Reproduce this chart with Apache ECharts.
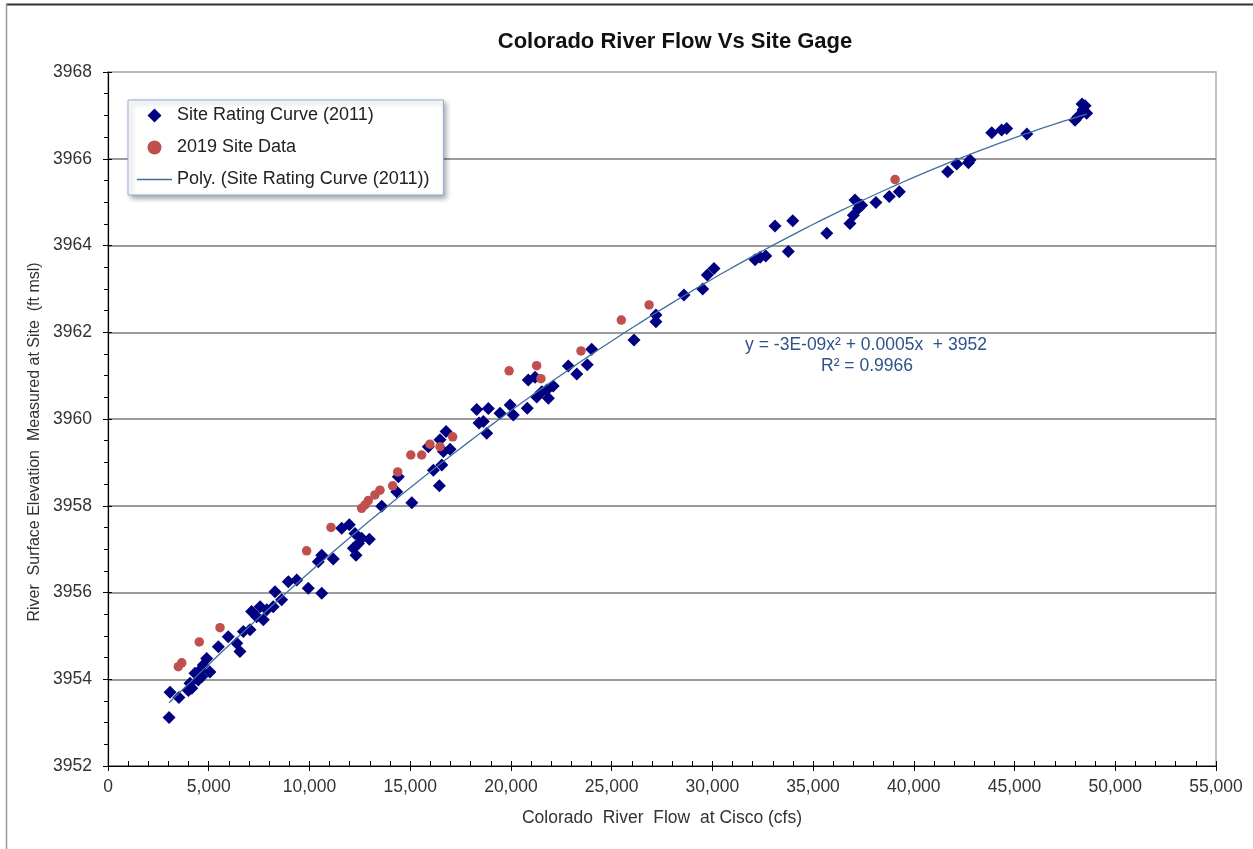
<!DOCTYPE html>
<html>
<head>
<meta charset="utf-8">
<script src="https://cdn.jsdelivr.net/npm/echarts@6/dist/echarts.min.js"></script>
<style>
  html, body { margin: 0; padding: 0; background: #fff; }
  #chart { width: 1253px; height: 849px; }
</style>
</head>
<body>
<div id="chart"></div>
<script>
// Rating curve measurements (2011): flow at Cisco (cfs) and stage at site (ft msl)
const ratingFlow = [
  3030, 3080, 3520, 3990, 4070, 4320, 4480, 4650, 4570, 4900, 5060, 4730, 4160,
  5480, 5970, 6390, 6550, 6720, 7130, 7050, 7380, 7550, 7710, 7880, 8290, 8200,
  8620, 8950, 9370, 9940, 10610, 10440, 10610, 11180, 11600, 11980, 12260, 12430,
  12180, 12310, 12590, 12970, 13590, 14330, 14410, 15080, 16150, 16450, 15900,
  16480, 16780, 16980, 16650, 16570, 18300, 18420, 18880, 18630, 18800, 19460,
  19960, 20120, 20810, 20860, 21200, 21280, 21530, 21780, 21860, 22100, 22850,
  23270, 23790, 24010, 26110, 27200, 27200, 28590, 29520, 29750, 30080, 32120,
  32370, 32650, 33110, 33990, 33770, 35680, 36830, 37000, 37080, 37250, 37410,
  38120, 38780, 39280, 41680, 42130, 42710, 42790, 43870, 44360, 44610, 45610,
  48000, 48150, 48500, 48580, 48400, 48350
];
const ratingStage = [
  3953.12, 3953.70, 3953.58, 3953.74, 3953.91, 3954.14, 3953.98, 3954.06, 3954.21,
  3954.48, 3954.17, 3954.33, 3953.79, 3954.75, 3954.98, 3954.83, 3954.64, 3955.10,
  3955.56, 3955.14, 3955.44, 3955.67, 3955.37, 3955.60, 3956.02, 3955.67, 3955.83,
  3956.25, 3956.29, 3956.10, 3955.98, 3956.71, 3956.86, 3956.77, 3957.48, 3957.56,
  3957.36, 3957.13, 3957.02, 3956.86, 3957.25, 3957.23, 3957.99, 3958.32, 3958.67,
  3958.07, 3958.82, 3958.46, 3959.36, 3959.52, 3959.71, 3959.30, 3959.25, 3958.94,
  3960.22, 3959.91, 3960.24, 3959.94, 3959.67, 3960.13, 3960.32, 3960.09, 3960.25,
  3960.90, 3960.96, 3960.51, 3960.63, 3960.67, 3960.48, 3960.76, 3961.22, 3961.04,
  3961.25, 3961.61, 3961.82, 3962.40, 3962.24, 3962.86, 3963.00, 3963.32, 3963.47,
  3963.67, 3963.73, 3963.76, 3964.45, 3964.57, 3963.86, 3964.28, 3964.51, 3964.70,
  3965.05, 3964.86, 3964.93, 3964.99, 3965.13, 3965.24, 3965.70, 3965.88, 3965.91,
  3965.97, 3966.60, 3966.66, 3966.70, 3966.57, 3966.89, 3966.97, 3967.22, 3967.05,
  3967.13, 3967.26
];

// 2019 site observations
const flow2019 = [
  3490, 3660, 4530, 5560, 9860, 11070, 12590, 12760, 12920, 13250, 13500, 14130,
  14380, 15030, 15570, 15980, 16480, 17110, 19910, 21280, 21490, 23480, 25480,
  26860, 39070
];
const stage2019 = [
  3954.29, 3954.38, 3954.86, 3955.19, 3956.96, 3957.50, 3957.94, 3958.02, 3958.12,
  3958.25, 3958.36, 3958.46, 3958.78, 3959.17, 3959.17, 3959.42, 3959.36, 3959.59,
  3961.11, 3961.23, 3960.93, 3961.57, 3962.28, 3962.63, 3965.52
];

const seriesNames = ['Site Rating Curve (2011)', '2019 Site Data', 'Poly. (Site Rating Curve (2011))'];
const trendEquation = 'y = -3E-09x\u00B2 + 0.0005x  + 3952';
const trendR2 = 'R\u00B2 = 0.9966';

// Second-order least-squares fit of the rating curve
function quadFit(xs, ys) {
  const n = xs.length;
  let s = [0, 0, 0, 0, 0], t = [0, 0, 0];
  for (let i = 0; i < n; i++) {
    const x = xs[i] / 10000, y = ys[i];
    let p = 1;
    for (let k = 0; k < 5; k++) { s[k] += p; if (k < 3) t[k] += p * y; p *= x; }
  }
  const A = [[s[0], s[1], s[2], t[0]], [s[1], s[2], s[3], t[1]], [s[2], s[3], s[4], t[2]]];
  for (let i = 0; i < 3; i++) {
    for (let j = i + 1; j < 3; j++) {
      const f = A[j][i] / A[i][i];
      for (let k = i; k < 4; k++) A[j][k] -= f * A[i][k];
    }
  }
  const c = [0, 0, 0];
  for (let i = 2; i >= 0; i--) {
    let v = A[i][3];
    for (let k = i + 1; k < 3; k++) v -= A[i][k] * c[k];
    c[i] = v / A[i][i];
  }
  return x => { const u = x / 10000; return c[0] + c[1] * u + c[2] * u * u; };
}

const fit = quadFit(ratingFlow, ratingStage);
const xMin = Math.min(...ratingFlow), xMax = Math.max(...ratingFlow);
const trendLine = [];
for (let i = 0; i <= 120; i++) {
  const x = xMin + (xMax - xMin) * i / 120;
  trendLine.push([x, fit(x)]);
}

const zip = (a, b) => a.map((v, i) => [v, b[i]]);
const font = 'Arial, "Liberation Sans", sans-serif';
const navy = '#000080';
const red = '#c0504d';
const trendBlue = '#3f6f9f';
const gridColors = ['#7a7a7a', '#7a7a7a', '#7a7a7a', '#7a7a7a', '#7a7a7a', '#7a7a7a', '#7a7a7a', '#7a7a7a', '#b5b5b5'];
const diamondPath = 'path://M6,0L12,6L6,12L0,6Z';
const dashPath = 'path://M0,0H35V1.4H0Z';

const chart = echarts.init(document.getElementById('chart'), null, { renderer: 'canvas' });
chart.setOption({
  animation: false,
  backgroundColor: '#ffffff',
  textStyle: { fontFamily: font },
  title: {
    text: 'Colorado River Flow Vs Site Gage',
    left: 670, top: 26, textAlign: 'center',
    textStyle: { fontFamily: font, fontSize: 22, fontWeight: 'bold', color: '#111' }
  },
  grid: {
    left: 108, right: 37, top: 72, bottom: 83,
    show: true, borderColor: '#b0b0b0', borderWidth: 1.5, backgroundColor: 'transparent'
  },
  legend: {
    orient: 'vertical', left: 128, top: 100,
    padding: [6, 14, 6, 9], itemGap: 13, itemWidth: 35, itemHeight: 14,
    symbolKeepAspect: true,
    backgroundColor: '#fff', borderColor: '#8faadc', borderWidth: 1,
    shadowBlur: 5, shadowOffsetX: 3, shadowOffsetY: 3, shadowColor: 'rgba(0,0,0,0.35)',
    textStyle: { fontFamily: font, fontSize: 18, lineHeight: 19, color: '#222' },
    data: [
      { name: seriesNames[0], icon: diamondPath, itemStyle: { color: navy, opacity: 1 } },
      { name: seriesNames[1], icon: 'circle', itemStyle: { color: red, opacity: 1 } },
      { name: seriesNames[2], icon: dashPath, itemStyle: { color: trendBlue, opacity: 1 } }
    ]
  },
  xAxis: [{
    type: 'value', min: 0, max: 55000, interval: 5000,
    name: 'Colorado  River  Flow  at Cisco (cfs)', nameLocation: 'middle', nameGap: 43,
    nameTextStyle: { fontFamily: font, fontSize: 17.5, color: '#333' },
    axisLine: { show: true, lineStyle: { color: '#000', width: 1.2 } },
    axisTick: { show: true, inside: true, length: 5, lineStyle: { color: '#000' } },
    minorTick: { show: true, splitNumber: 5, length: 5, lineStyle: { color: '#000' } },
    splitLine: { show: false },
    axisLabel: {
      margin: 12, fontSize: 17.5, color: '#333', fontFamily: font,
      formatter: v => v.toLocaleString('en-US')
    }
  }, {
    type: 'value', min: 0, max: 55000, interval: 5000, position: 'bottom',
    axisLine: { show: false },
    axisTick: { show: true, inside: false, length: 5, lineStyle: { color: '#000' } },
    axisLabel: { show: false }, splitLine: { show: false }
  }],
  yAxis: [{
    type: 'value', min: 3952, max: 3968, interval: 2,
    name: 'River  Surface Elevation  Measured at Site  (ft msl)', nameLocation: 'middle', nameGap: 62,
    nameTextStyle: { fontFamily: font, fontSize: 16, color: '#333', padding: [0, 46, 0, 0] },
    axisLine: { show: true, lineStyle: { color: '#000', width: 1.2 } },
    axisTick: { show: true, inside: false, length: 5, lineStyle: { color: '#000' } },
    minorTick: { show: true, splitNumber: 4, length: 4, lineStyle: { color: '#000' } },
    splitLine: { show: true, lineStyle: { color: gridColors, width: 1.6 } },
    axisLabel: { margin: 16, fontSize: 17.5, color: '#333', fontFamily: font, formatter: v => String(v) }
  }, {
    type: 'value', min: 3952, max: 3968, interval: 2, position: 'left',
    axisLine: { show: false },
    axisTick: { show: true, inside: true, length: 4, lineStyle: { color: '#000' } },
    axisLabel: { show: false }, splitLine: { show: false }
  }],
  series: [
    {
      name: seriesNames[0], type: 'scatter', symbol: 'diamond', symbolSize: 13,
      itemStyle: { color: navy, opacity: 1 },
      data: zip(ratingFlow, ratingStage), z: 3
    },
    {
      name: seriesNames[1], type: 'scatter', symbol: 'circle', symbolSize: 9.5,
      itemStyle: { color: red, opacity: 1 },
      data: zip(flow2019, stage2019), z: 4
    },
    {
      name: seriesNames[2], type: 'line', symbol: 'none', smooth: false,
      lineStyle: { color: trendBlue, width: 1.3 },
      itemStyle: { color: trendBlue },
      data: trendLine, z: 5
    }
  ],
  graphic: [
    { type: 'line', shape: { x1: 6, y1: 4.5, x2: 1253, y2: 4.5 }, style: { stroke: '#333', lineWidth: 2 } },
    { type: 'line', shape: { x1: 6.5, y1: 4, x2: 6.5, y2: 849 }, style: { stroke: '#999', lineWidth: 1.5 } },
    {
      type: 'text', x: 866, y: 345,
      style: { text: trendEquation, font: '17.5px ' + font, fill: '#2f5289', align: 'center', verticalAlign: 'middle' }
    },
    {
      type: 'text', x: 867, y: 366,
      style: { text: trendR2, font: '17.5px ' + font, fill: '#2f5289', align: 'center', verticalAlign: 'middle' }
    }
  ]
});
</script>
</body>
</html>
